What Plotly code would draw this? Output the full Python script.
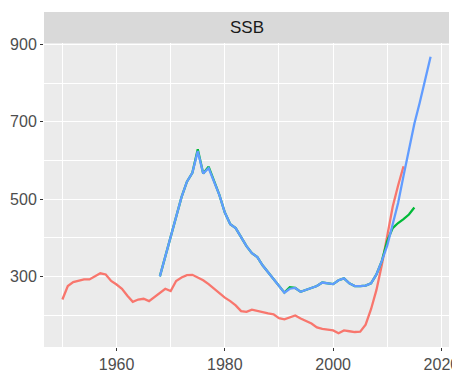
import plotly.graph_objects as go

red_years = list(range(1950, 2014))
red_vals = [240, 275, 285, 288, 292, 292, 299, 308, 305, 288,
            279, 268, 250, 234, 240, 242, 236, 246, 258, 268,
            262, 288, 297, 303, 304, 297, 290, 280, 268, 258,
            245, 236, 225, 210, 208, 214, 210, 206, 204, 202,
            192, 189, 193, 199, 191, 184, 178, 168, 164, 162,
            160, 153, 160, 158, 156, 157, 175, 215, 265, 330,
            410, 480, 535, 585]

blue_years = list(range(1968, 2019))
blue_vals = [300, 352, 405, 460, 505, 545, 568, 624, 566, 580,
             545, 510, 465, 435, 425, 400, 378, 360, 350, 328,
             310, 295, 275, 258, 268, 270, 260, 265, 270, 275,
             284, 282, 280, 290, 295, 282, 275, 275, 276, 282,
             305, 340, 380, 435, 490, 560, 625, 695, 750, 810, 868]

green_years = list(range(1968, 2016))
green_vals = [300, 352, 405, 460, 505, 545, 568, 629, 566, 584,
              545, 510, 465, 435, 425, 400, 378, 360, 350, 328,
              310, 295, 275, 258, 272, 270, 260, 265, 270, 275,
              284, 282, 280, 290, 295, 282, 275, 275, 276, 282,
              305, 340, 392, 425, 438, 448, 460, 478]

x_ticks = [1960, 1980, 2000, 2020]
y_ticks = [300, 500, 700, 900]

all_x = red_years + blue_years + green_years
all_y = red_vals + blue_vals + green_vals
xr = [min(all_x), max(all_x)]
yr = [min(all_y), max(all_y)]
xpad = 0.05 * (xr[1] - xr[0])
ypad = 0.05 * (yr[1] - yr[0])

fig = go.Figure()
for xs, ys, col in [(red_years, red_vals, "#F8766D"),
                    (green_years, green_vals, "#00BA38"),
                    (blue_years, blue_vals, "#619CFF")]:
    fig.add_trace(go.Scatter(x=xs, y=ys, mode="lines",
                             line=dict(color=col, width=2.3),
                             showlegend=False, hoverinfo="skip"))

# page body has an 8px margin, so the figure is sized to fit the 460x372 window
tickfont = dict(family="Liberation Sans, Arial, sans-serif", size=16, color="#4D4D4D")
fig.update_layout(
    width=452, height=364,
    margin=dict(l=36, r=11, t=35, b=25, autoexpand=False),
    paper_bgcolor="white",
    plot_bgcolor="#EBEBEB",
    xaxis=dict(range=[xr[0] - xpad, xr[1] + xpad], tickvals=x_ticks,
               automargin=False,
               showgrid=True, gridcolor="white", gridwidth=1.1,
               zeroline=False, showline=False, ticks="outside",
               ticklen=3, tickcolor="#333333", tickfont=tickfont,
               minor=dict(dtick=10, tick0=1950, showgrid=True,
                          gridcolor="white", gridwidth=0.5, ticks="")),
    yaxis=dict(range=[yr[0] - ypad, yr[1] + ypad], tickvals=y_ticks,
               automargin=False,
               showgrid=True, gridcolor="white", gridwidth=1.1,
               zeroline=False, showline=False, ticks="outside",
               ticklen=3, tickcolor="#333333", tickfont=tickfont,
               minor=dict(dtick=100, tick0=200, showgrid=True,
                          gridcolor="white", gridwidth=0.5, ticks="")),
    shapes=[dict(type="rect", xref="paper", yref="paper",
                 x0=0, x1=1, y0=1, y1=1 + 31 / 304,
                 fillcolor="#D9D9D9", line=dict(width=0), layer="below")],
    annotations=[dict(text="SSB", xref="paper", yref="paper",
                      x=0.5, y=1 + 15.5 / 304, showarrow=False,
                      xanchor="center", yanchor="middle",
                      font=dict(family="Liberation Sans, Arial, sans-serif",
                                size=17, color="#1A1A1A"))],
)

fig.write_html("out.html")
